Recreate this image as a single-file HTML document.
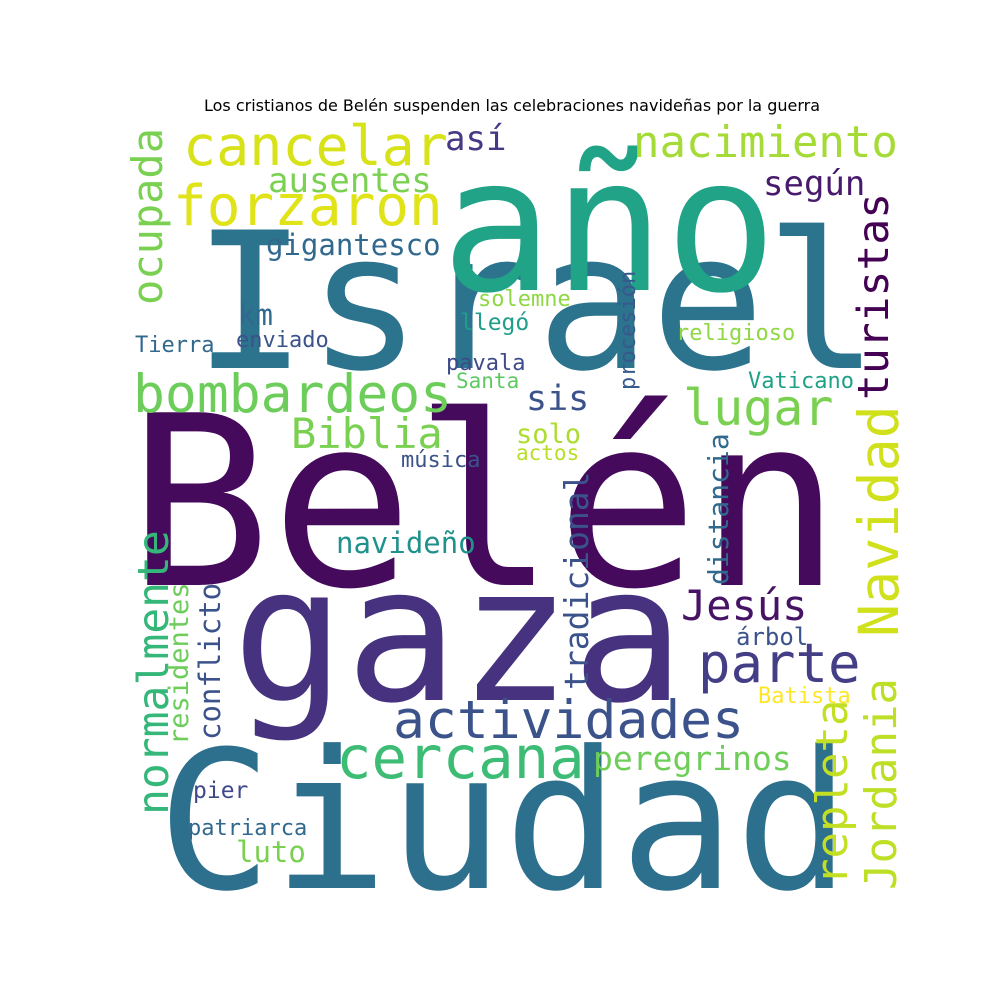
<!DOCTYPE html>
<html><head><meta charset="utf-8">
<style>
html,body{margin:0;padding:0;background:#fff;}
svg{display:block;}
</style></head>
<body>
<svg id="cloud" width="1000" height="1000" viewBox="0 0 1000 1000" xmlns="http://www.w3.org/2000/svg">
<rect width="1000" height="1000" fill="#fff"/>
<text x="512" y="111" text-anchor="middle" font-family="'DejaVu Sans','Liberation Sans',sans-serif" font-size="16" fill="#000">Los cristianos de Belén suspenden las celebraciones navideñas por la guerra</text>
<g id="words"></g>
</svg>
<script>
const words = ["Belén","Israel","año","gaza","Ciudad","cancelar","forzaron","nacimiento","según","así","ausentes","gigantesco","ocupada","turistas","km","solemne","llegó","procesión","religioso","Tierra","enviado","pavala","Santa","Vaticano","bombardeos","sis","lugar","Biblia","Navidad","solo","actos","música","distancia","tradicional","navideño","normalmente","residentes","conflicto","Jesús","árbol","parte","Batista","actividades","cercana","peregrinos","repleta","Jordania","pier","patriarca","luto"];
const sizes = [237,190,186,188,192,55,56,44,34,34,34,29,42,43,29,22,23,22,22,22,22,22,21,22,53,35,50,42,55,27,21,22,28,33,29,43,27,29,42,24,54,22,53,59,33,44,44,23,22,29];
const xs = [128,193,441,232,157,183,173,633,763,445,268,266,162,888,238,478,460,635,676,135,236,446,456,748,133,526,683,291,898,516,516,401,728,588,336,168,188,220,681,736,698,758,393,336,593,847,896,193,188,236];
const ys = [585,368,290,700,888,165,225,157,195,150,192,255,305,400,325,306,330,390,340,352,347,370,388,388,412,410,425,448,637,443,460,467,585,690,553,815,745,740,620,645,682,703,738,778,770,885,890,798,835,862];
const rots = [0,0,0,0,0,0,0,0,0,0,0,0,-90,-90,0,0,0,-90,0,0,0,0,0,0,0,0,0,0,-90,0,0,0,-90,-90,0,-90,-90,-90,0,0,0,0,0,0,0,-90,-90,0,0,0];
const colors = ["#450a5c","#2c738e","#20a386","#46327e","#2d708e","#d8e219","#dfe318","#a5db36","#481a6c","#443983","#7ad151","#31688e","#7ad151","#440154","#31688e","#8fd744","#1f9e89","#38598c","#8fd744","#31688e","#3b528b","#3e4a89","#5ec962","#1fa187","#6ccd5a","#3b528b","#7ad151","#7ad151","#d0e11c","#addc30","#b8de29","#3b528b","#31688e","#3b528b","#21918c","#35b779","#6ccd5a","#3b528b","#471365","#3b528b","#433e85","#fde725","#3b528b","#3cbc75","#6ece58","#c2df23","#bddf26","#3e4989","#31688e","#7ad151"];

const g = document.getElementById('words');
const NS = "http://www.w3.org/2000/svg";
for (let i = 0; i < words.length; i++) {
  const t = document.createElementNS(NS, 'text');
  
  
  t.setAttribute('font-family', "'DejaVu Sans Mono','Liberation Mono',monospace");
  t.setAttribute('font-size', sizes[i]);
  t.setAttribute('fill', colors[i]);
  t.setAttribute('x', 0);
  t.setAttribute('y', 0);
  t.setAttribute('transform', 'translate(' + xs[i] + ',' + ys[i] + ') rotate(' + rots[i] + ')');
  t.textContent = words[i];
  g.appendChild(t);
}
</script>
</body></html>
